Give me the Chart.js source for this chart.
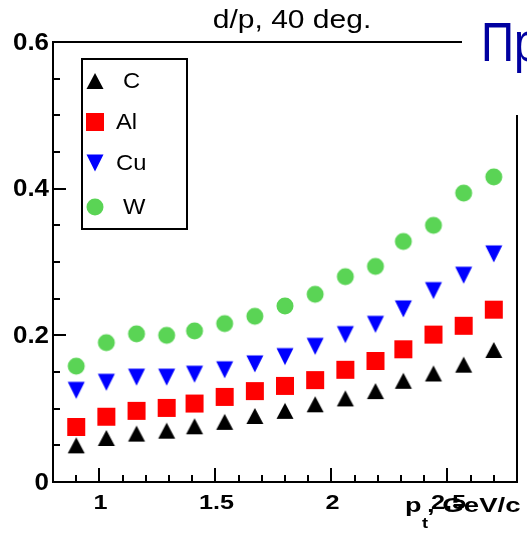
<!DOCTYPE html>
<html>
<head>
<meta charset="utf-8">
<script src="https://cdn.jsdelivr.net/npm/chart.js@4"></script>
<style>
  html, body { margin: 0; padding: 0; background: #fff; }
  #wrap { width: 527px; height: 540px; }
</style>
</head>
<body>
<div id="wrap"><canvas id="c" width="527" height="540"></canvas></div>
<script>
// p_t bins, GeV/c
const PT = [0.90, 1.03, 1.16, 1.29, 1.41, 1.54, 1.67, 1.80, 1.93, 2.06, 2.19, 2.31, 2.44, 2.57, 2.70];
// d/p ratio per target
const C_VAL = [0.050, 0.060, 0.066, 0.070, 0.076, 0.082, 0.090, 0.097, 0.106, 0.114, 0.124, 0.138, 0.148, 0.160, 0.180];
const AL_VAL = [0.075, 0.089, 0.097, 0.101, 0.107, 0.116, 0.124, 0.131, 0.139, 0.153, 0.165, 0.181, 0.201, 0.213, 0.235];
const CU_VAL = [0.125, 0.136, 0.143, 0.143, 0.147, 0.153, 0.161, 0.171, 0.185, 0.201, 0.215, 0.236, 0.261, 0.282, 0.311];
const W_VAL = [0.158, 0.190, 0.202, 0.200, 0.206, 0.216, 0.226, 0.240, 0.256, 0.280, 0.294, 0.328, 0.350, 0.394, 0.416];

const TARGETS = ["C", "Al", "Cu", "W"];
const X_TICKS = [1, 1.5, 2, 2.5];
const X_TICK_LABELS = ["1", "1.5", "2", "2.5"];
const Y_TICKS = [0, 0.2, 0.4, 0.6];
const Y_TICK_LABELS = ["0", "0.2", "0.4", "0.6"];

const COL = {
  C: "#000000",
  Al: "#ff0000",
  Cu: "#0000ff",
  W: "#5ad455",
};

// marker sprites, centred on their bounding box like ROOT markers
function marker(kind, color) {
  const s = 20;
  const cv = document.createElement("canvas");
  cv.width = s;
  cv.height = s;
  const g = cv.getContext("2d");
  g.fillStyle = color;
  g.beginPath();
  const m = s / 2;
  if (kind == "up") {
    g.moveTo(m, m - 8);
    g.lineTo(m + 8.5, m + 8);
    g.lineTo(m - 8.5, m + 8);
  } else if (kind == "down") {
    g.moveTo(m - 8.5, m - 8.5);
    g.lineTo(m + 8.5, m - 8.5);
    g.lineTo(m, m + 8.5);
  } else if (kind == "square") {
    g.rect(m - 9, m - 9, 18, 18);
  } else {
    g.arc(m, m, 8.5, 0, Math.PI * 2);
  }
  g.closePath();
  g.fill();
  return cv;
}

const MARKERS = {
  C: marker("up", COL.C),
  Al: marker("square", COL.Al),
  Cu: marker("down", COL.Cu),
  W: marker("circle", COL.W),
};

function pts(vals) {
  return PT.map((x, i) => ({ x: x, y: vals[i] }));
}

// stretched text, ROOT style
function txt(ctx, s, x, y, font, sx, align, color) {
  ctx.save();
  ctx.font = font;
  ctx.fillStyle = color || "#000";
  ctx.textAlign = align || "left";
  ctx.textBaseline = "middle";
  ctx.translate(x, y);
  ctx.scale(sx, 1);
  ctx.fillText(s, 0, 0);
  ctx.restore();
}

const rootFrame = {
  id: "rootFrame",
  afterDraw(chart) {
    const ctx = chart.ctx;
    const a = chart.chartArea;
    const xs = chart.scales.x;
    const ys = chart.scales.y;
    ctx.save();
    ctx.strokeStyle = "#000";
    ctx.lineWidth = 2;
    ctx.lineCap = "butt";

    // frame (top and right partly hidden under the overlay text)
    ctx.beginPath();
    ctx.moveTo(462, a.top);
    ctx.lineTo(a.left, a.top);
    ctx.lineTo(a.left, a.bottom);
    ctx.lineTo(a.right, a.bottom);
    ctx.lineTo(a.right, 115);
    ctx.stroke();

    // y ticks, inward
    ctx.beginPath();
    for (let v = 0.05; v < 0.6; v += 0.05) {
      const y = Math.round(ys.getPixelForValue(v));
      const major = Y_TICKS.some((t) => Math.abs(t - v) < 1e-6);
      ctx.moveTo(a.left, y);
      ctx.lineTo(a.left + (major ? 13 : 7), y);
    }
    // x ticks, inward
    for (let v = 0.9; v < 2.79; v += 0.1) {
      const x = Math.round(xs.getPixelForValue(v));
      const major = X_TICKS.some((t) => Math.abs(t - v) < 1e-6);
      ctx.moveTo(x, a.bottom);
      ctx.lineTo(x, a.bottom - (major ? 14 : 7));
    }
    ctx.stroke();

    // tick labels
    Y_TICKS.forEach((v, i) => {
      txt(ctx, Y_TICK_LABELS[i], 49, ys.getPixelForValue(v) + 1, "bold 24px 'Liberation Sans'", 1.08, "right");
    });
    X_TICKS.forEach((v, i) => {
      txt(ctx, X_TICK_LABELS[i], xs.getPixelForValue(v) + 1, 503, "bold 21px 'Liberation Sans'", 1.2, "center");
    });

    // axis title p_t, GeV/c
    txt(ctx, "p", 405, 506, "bold 20px 'Liberation Sans'", 1.35, "left");
    txt(ctx, "t", 422, 524, "bold 14px 'Liberation Sans'", 1.3, "left");
    txt(ctx, ", GeV/c", 427, 506, "bold 20px 'Liberation Sans'", 1.38, "left");

    // title
    txt(ctx, "d/p, 40 deg.", 292, 21, "25px 'Liberation Sans'", 1.2, "center");

    // legend box
    ctx.lineWidth = 2;
    ctx.strokeRect(82, 59, 105, 170);
    const ly = [81, 122, 163, 207];
    const lx = [123, 116, 116, 123];
    TARGETS.forEach((t, i) => {
      const mk = MARKERS[t];
      ctx.drawImage(mk, 95 - mk.width / 2, ly[i] - mk.height / 2);
      txt(ctx, t, lx[i], ly[i] + 1, "22px 'Liberation Sans'", 1.08, "left");
    });

    // overlay heading, cut at the page edge
    txt(ctx, "Пр", 481, 46, "56px 'Liberation Sans'", 0.82, "left", "#0000a0");
    ctx.restore();
  },
};

new Chart(document.getElementById("c"), {
  type: "scatter",
  data: {
    datasets: [
      { label: "C", data: pts(C_VAL), pointStyle: MARKERS.C, backgroundColor: COL.C },
      { label: "Al", data: pts(AL_VAL), pointStyle: MARKERS.Al, backgroundColor: COL.Al },
      { label: "Cu", data: pts(CU_VAL), pointStyle: MARKERS.Cu, backgroundColor: COL.Cu },
      { label: "W", data: pts(W_VAL), pointStyle: MARKERS.W, backgroundColor: COL.W },
    ],
  },
  options: {
    responsive: false,
    animation: false,
    devicePixelRatio: 1,
    layout: {
      padding: { left: 53, right: 8, top: 42, bottom: 58 },
    },
    scales: {
      x: { type: "linear", min: 0.8, max: 2.8, display: false },
      y: { type: "linear", min: 0, max: 0.6, display: false },
    },
    plugins: {
      legend: { display: false },
      tooltip: { enabled: false },
    },
    elements: {
      point: { radius: 9, hoverRadius: 9 },
    },
  },
  plugins: [rootFrame],
});
</script>
</body>
</html>
